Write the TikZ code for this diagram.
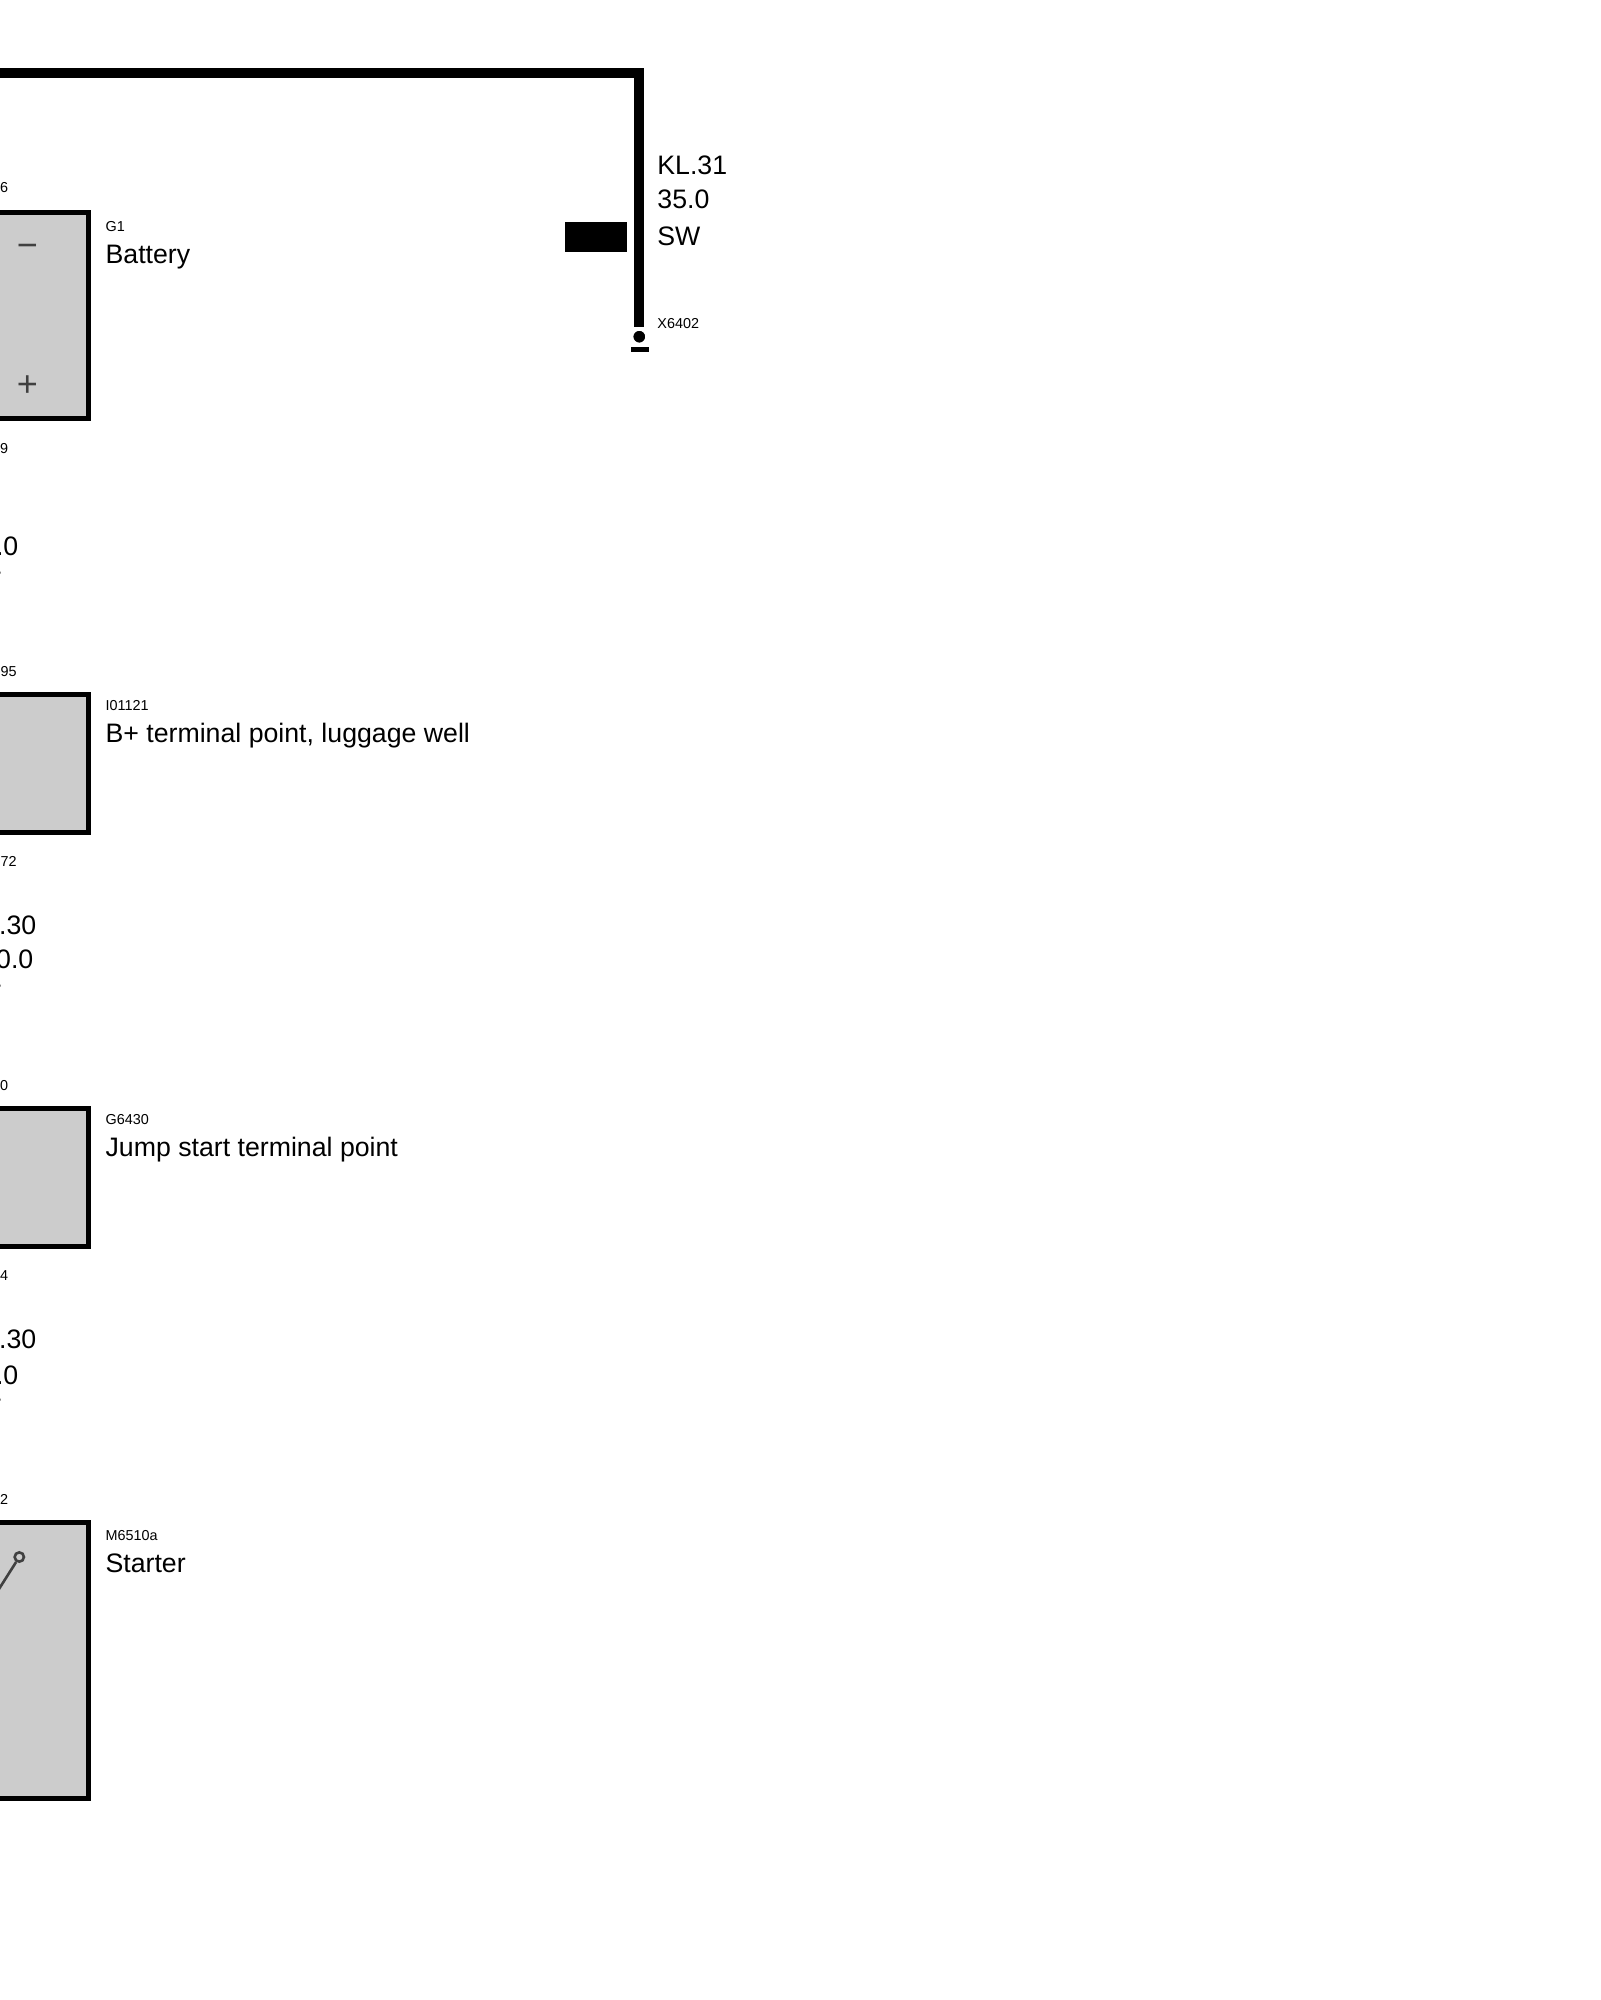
\documentclass[tikz,border=0pt]{standalone}
\usepackage{fontspec}
\setmainfont{Liberation Sans}
\usetikzlibrary{positioning}

\definecolor{boxgray}{HTML}{CCCCCC}
\definecolor{symgray}{HTML}{404040}

\begin{document}
\begin{tikzpicture}[x=0.5pt, y=-0.5pt,
    partbox/.style={rectangle, draw=black, fill=boxgray, line width=2.5pt, minimum width=120pt, inner sep=0pt},
    wire/.style={line width=5pt, line join=miter},
    bigtext/.style={anchor=base west, inner sep=0pt, font=\fontsize{13.35}{15}\selectfont},
    smalltext/.style={anchor=base west, inner sep=0pt, font=\fontsize{7.2}{9}\selectfont},
    bigcut/.style={bigtext, anchor=base east},
    smallcut/.style={smalltext, anchor=base east},
    polesign/.style={inner sep=0pt, text=symgray, font=\fontsize{18}{20}\selectfont}]
\useasboundingbox (0,0) rectangle (1600,2000);

\node [partbox, minimum height=102.9pt] (battery) at (-31.5,315.4) {};
\node [partbox, minimum height=68.8pt] (lugpoint) at (-31.5,763.5) {};
\node [partbox, minimum height=68.8pt] (jumppoint) at (-31.5,1177.2) {};
\node [partbox, minimum height=138pt] (starter) at (-31.5,1660.4) {};

\node [polesign] (minus) at (27.5,251) {−};
\node [polesign] (plus) at (27.5,386.5) {+};

% starter switch
\node [circle, draw=symgray, line width=1.3pt, inner sep=0pt, minimum size=4.65pt] (pivot) at (19.3,1557) {};
\coordinate (pivotend) at (-8,1600);
\draw [symgray, line width=1.3pt] (pivot) -- (pivotend);

% ground wire
\node [circle, draw=white, fill=black, line width=2pt, inner sep=0pt, minimum size=8pt] (gnddot) at (639.3,336.7) {};
\node [rectangle, fill=black, inner sep=0pt, minimum width=8.7pt, minimum height=2.4pt] (gndbar) at (640,349.7) {};
\node [rectangle, fill=black, inner sep=0pt, minimum width=30.8pt, minimum height=14.7pt] (swatch) at (595.8,237) {};
\coordinate (wirestart) at (-10,73.3);
\coordinate (wirecorner) at (639.3,73.3);
\draw [wire] (wirestart) -- (wirecorner) -- (gnddot.north);

\node [bigtext] (wname) at (657,175) {KL.31};
\node [bigtext] (wsize) at (657,209) {35.0};
\node [bigtext] (wcolor) at (657,246) {SW};
\node [smalltext] (gndid) at (657,328.6) {X6402};

\node [smalltext] (batid) at (105.2,231.7) {G1};
\node [bigtext] (batname) at (105.2,263.5) {Battery};
\node [smalltext] (lugid) at (105.2,710.3) {I01121};
\node [bigtext] (lugname) at (105.2,742.9) {B+ terminal point, luggage well};
\node [smalltext] (jumpid) at (105.2,1124.3) {G6430};
\node [bigtext] (jumpname) at (105.2,1156.9) {Jump start terminal point};
\node [smalltext] (startid) at (105.2,1540) {M6510a};
\node [bigtext] (startname) at (105.2,1572.9) {Starter};

% labels cut by the left edge
\node [smallcut] (pin6) at (8.5,192.7) {6};
\node [smallcut] (pin9) at (8.5,453.7) {9};
\node [bigcut] (sizea) at (18.7,555) {.0};
\node [bigcut] (tipa) at (1.5,590) {T};
\node [smallcut] (pin95) at (17,676.7) {95};
\node [smallcut] (pin72) at (17,866.7) {72};
\node [bigcut] (nameb) at (36.7,934.3) {.30};
\node [bigcut] (sizeb) at (33.7,968.3) {0.0};
\node [bigcut] (tipb) at (1.5,1003) {T};
\node [smallcut] (pin0) at (8.5,1090.4) {0};
\node [smallcut] (pin4) at (8.5,1280) {4};
\node [bigcut] (namec) at (36.7,1348) {.30};
\node [bigcut] (sizec) at (18.7,1384) {.0};
\node [bigcut] (tipc) at (1.5,1417) {T};
\node [smallcut] (pin2) at (8.5,1504.4) {2};

\end{tikzpicture}
\end{document}
